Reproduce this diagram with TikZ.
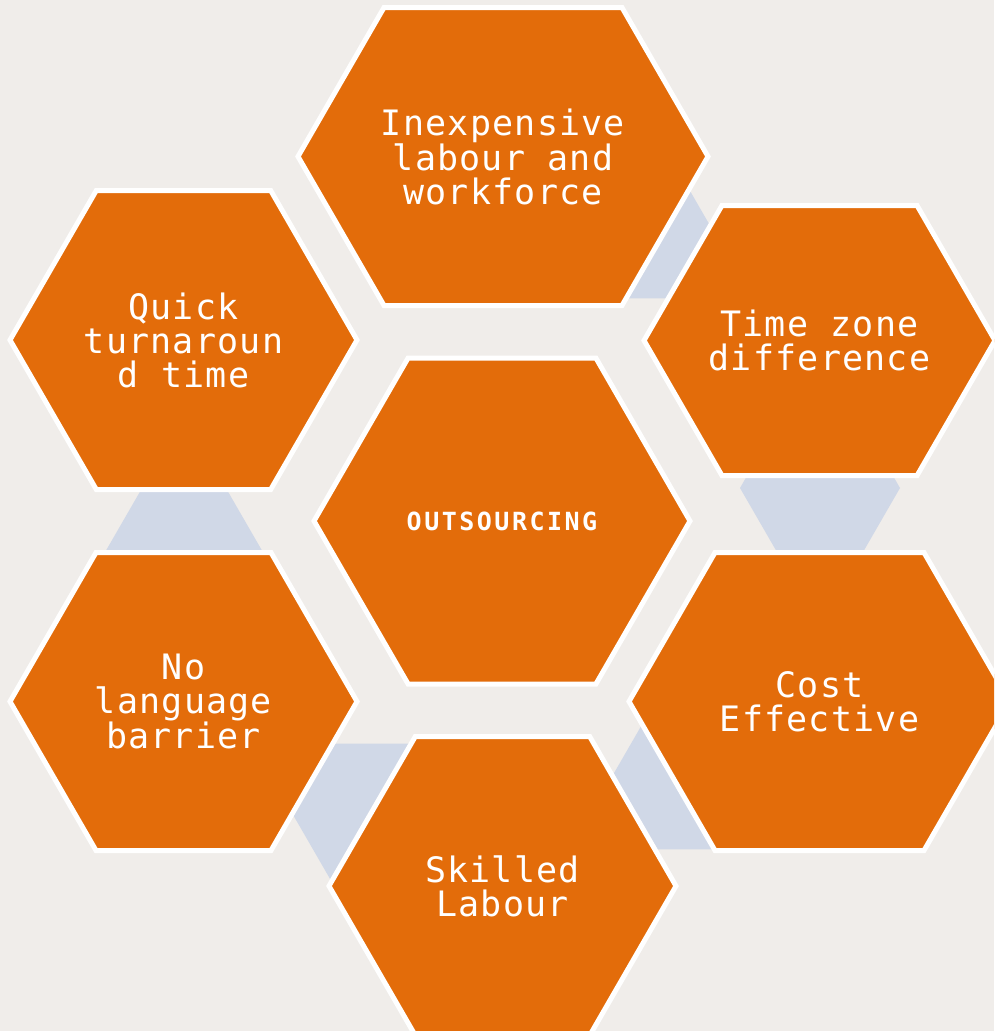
\documentclass[tikz,border=0pt]{standalone}
\usepackage{fontspec}
\newfontfamily\hexfont{DejaVu Sans Mono}[LetterSpace=3.5]
\newfontfamily\corefont{DejaVu Sans Mono}[LetterSpace=10]
\definecolor{hexorange}{RGB}{227,108,10}
\definecolor{hexblue}{RGB}{208,216,231}
\definecolor{hexback}{RGB}{240,237,234}
% flat-topped hexagon: centre x, centre y, half width, half height
\newcommand\hexat[4]{({#1-#3},{#2}) -- ({#1-#3+0.57735*#4},{#2-#4}) -- ({#1+#3-0.57735*#4},{#2-#4}) -- ({#1+#3},{#2}) -- ({#1+#3-0.57735*#4},{#2+#4}) -- ({#1-#3+0.57735*#4},{#2+#4}) -- cycle}

\begin{document}
\begin{tikzpicture}[x=1pt,y=-1pt,
	hexcell/.style={fill=hexorange,draw=white,line width=5pt},
	hexlink/.style={fill=hexblue},
	hexlabel/.style={text=white,align=center,inner sep=0pt,font=\hexfont\fontsize{35}{34}\selectfont},
	corelabel/.style={text=white,inner sep=0pt,font=\corefont\bfseries\fontsize{25}{30}\selectfont}]
	\useasboundingbox (0,0) rectangle (994,1031);
	\clip (0,0) rectangle (994,1031);
	\fill[hexback] (0,0) rectangle (994,1031);
	% links behind the ring
	\path[hexlink] \hexat{632}{229}{80}{69.3};
	\path[hexlink] \hexat{820}{488}{80}{69.3};
	\path[hexlink] \hexat{690}{780}{80}{69.3};
	\path[hexlink] \hexat{372}{813}{80}{69.3};
	\path[hexlink] \hexat{184}{554}{80}{69.3};
	% ring
	\path[hexcell] \hexat{503}{156.5}{205}{149};
	\path[hexcell] \hexat{819.5}{340.5}{175.5}{135};
	\path[hexcell] \hexat{819.5}{701.5}{190.5}{149};
	\path[hexcell] \hexat{502.5}{886}{173.5}{149.5};
	\path[hexcell] \hexat{183.5}{701.5}{173.5}{149};
	\path[hexcell] \hexat{183.5}{340}{173.5}{149.5};
	\path[hexcell] \hexat{502}{521}{188}{163};
	\node[hexlabel] (inexpensive) at (503,156.5) {Inexpensive\\labour and\\workforce};
	\node[hexlabel] (timezone) at (819.5,340.5) {Time zone\\difference};
	\node[hexlabel] (costeff) at (819.5,701.5) {Cost\\Effective};
	\node[hexlabel] (skilled) at (502.5,886) {Skilled\\Labour};
	\node[hexlabel] (nolang) at (183.5,701.5) {No\\language\\barrier};
	\node[hexlabel] (quick) at (183.5,340) {Quick\\turnaroun\\d time};
	\node[corelabel] (core) at (502,521) {OUTSOURCING};
\end{tikzpicture}
\end{document}
